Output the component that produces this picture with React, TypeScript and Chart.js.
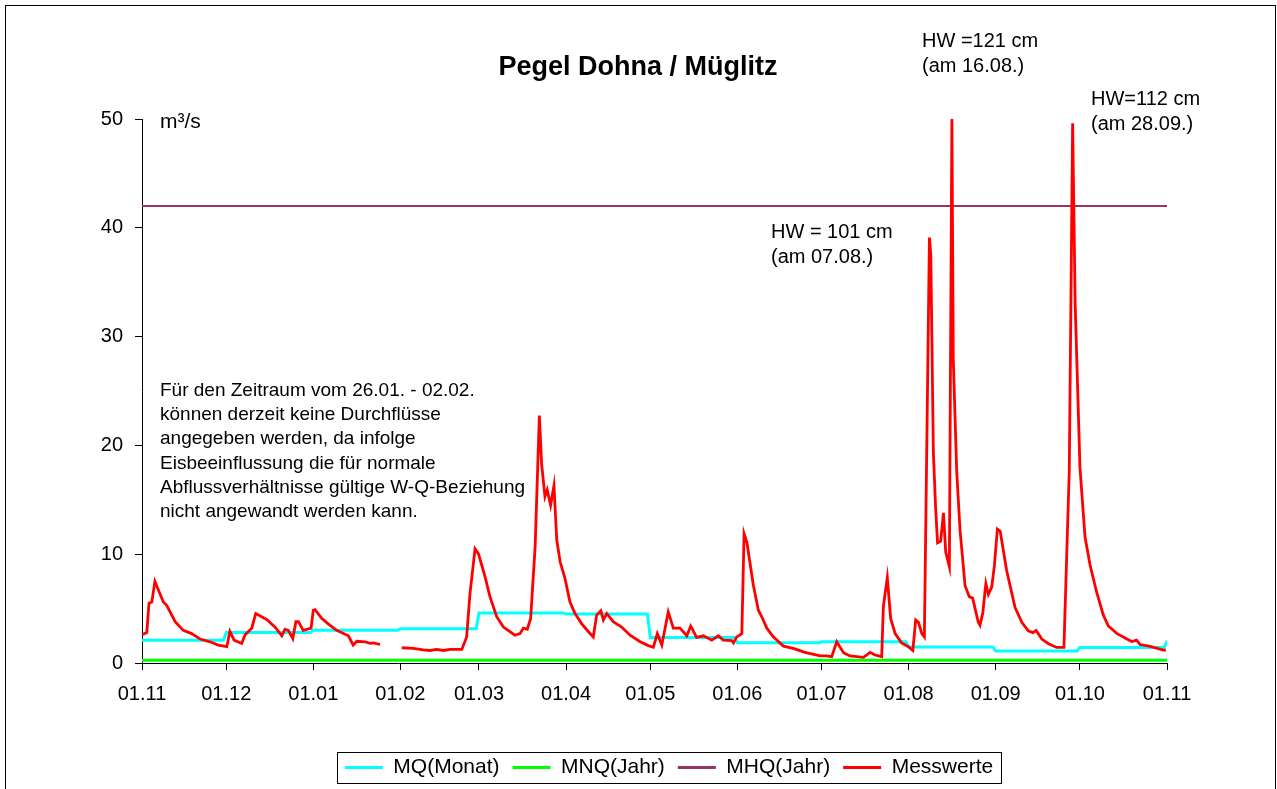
import { useEffect, useRef } from 'react';
import { Chart, registerables } from 'chart.js';

Chart.register(...registerables);

const FONT = '"Liberation Sans", Arial, Helvetica, sans-serif';

// ---------- data ----------
const TITLE = 'Pegel Dohna / Müglitz';
const UNIT = 'm³/s';

// x = day index since 01.11
const MONTH_TICK_DAYS = [0, 30, 61, 92, 120, 151, 181, 212, 242, 273, 304, 334, 365];
const MONTH_TICK_LABELS = ['01.11', '01.12', '01.01', '01.02', '01.03', '01.04', '01.05', '01.06', '01.07', '01.08', '01.09', '01.10', '01.11'];

const SERIES_NAMES = ['MQ(Monat)', 'MNQ(Jahr)', 'MHQ(Jahr)', 'Messwerte'];

// monthly mean discharge MQ (Nov .. Oct), value for the following November at the end
const MQ_MONTH_START = [0, 30, 61, 92, 120, 151, 181, 212, 242, 273, 304, 334];
const MQ_VALUES = [2.1, 2.8, 3.0, 3.15, 4.6, 4.5, 2.35, 1.85, 1.95, 1.47, 1.1, 1.42];
const MQ_NEXT_NOV = 2.05;

const MNQ_VALUE = 0.25;
const MHQ_VALUE = 42;

// measured values (day, m³/s); null = no data (26.01. - 02.02.)
const MESS_DAYS = [
  0, 1.7, 2.5, 3.5, 4.6, 7.6, 8.8, 11.8, 14.7, 17.7, 20.7, 24.2, 27.2, 30.2, 31.3, 32.8, 35.5, 36.7, 39.1, 40.5,
  44.4, 47.4, 49.8, 50.9, 52.1, 53.7, 54.8, 55.7, 57.4, 60.2, 61, 61.6, 64, 66.3, 69.3, 73.5, 75.2, 76.5, 79.4, 81.2,
  82.4, 84.8, 88, 92.5, 96.6, 100.2, 102.6, 104.9, 107.3, 109.7, 113.9, 115.6, 116.8, 118.6, 119.8, 122.2, 123.9, 126.3, 128.7, 132.8,
  134.6, 135.8, 137.2, 138.4, 140, 141.5, 142.3, 143.5, 144.3, 145.5, 146.7, 147.7, 148.9, 150.6, 152.4, 154.2, 156.6, 158.9, 160.7, 161.9,
  163.4, 164.3, 165.5, 167.8, 170.8, 173.8, 177.4, 180.3, 182.1, 183.5, 185.1, 187.4, 189.2, 191.6, 194, 195.4, 197.5, 199.9, 202.9, 205.2,
  207, 210, 210.6, 211.8, 213.6, 214.4, 215.4, 217.7, 219.5, 220.7, 222.5, 224.8, 228.4, 231.9, 236.1, 241.5, 243.8, 245.6, 247.4, 249.8,
  252.1, 256.9, 259.3, 261, 263.4, 264, 265.4, 266.6, 268.2, 270.5, 272.9, 274.5, 275.5, 276.5, 277.7, 278.6, 280.4, 280.9, 281.8, 282.6,
  283.3, 284.4, 285.4, 286.2, 287.5, 288.4, 288.9, 290.1, 291.3, 293.1, 294.6, 295.8, 297.8, 298.4, 299.4, 300.5, 301.4, 302.6, 303.5, 304.6,
  305.6, 307.9, 310.9, 313.3, 315.6, 317.2, 318.4, 320.4, 322.8, 325.7, 328.3, 330.2, 331.4, 332.3, 334, 335.8, 337.6, 340, 342.3, 344.1,
  347.1, 350.7, 352.5, 354.2, 355.4, 359, 363.7, 364.6,
];
const MESS_VALUES = [
  2.6, 2.8, 5.5, 5.6, 7.5, 5.6, 5.3, 3.8, 3.0, 2.7, 2.2, 1.95, 1.65, 1.5, 2.9, 2.1, 1.8, 2.6, 3.2, 4.55,
  4.0, 3.3, 2.5, 3.1, 3.0, 2.25, 3.8, 3.8, 3.0, 3.2, 4.85, 4.9, 4.1, 3.6, 3.0, 2.5, 1.65, 2.0, 1.95, 1.8,
  1.85, 1.7, null, 1.4, 1.35, 1.2, 1.15, 1.25, 1.15, 1.25, 1.25, 2.4, 6.4, 10.5, 10.05, 7.9, 6.1, 4.25, 3.3, 2.55,
  2.7, 3.2, 3.1, 4.1, 10.7, 22.75, 18.3, 15.3, 15.9, 14.5, 16.3, 11.3, 9.3, 7.8, 5.6, 4.55, 3.6, 2.9, 2.4, 4.4,
  4.8, 3.95, 4.55, 3.8, 3.3, 2.55, 1.95, 1.6, 1.45, 2.7, 1.65, 4.7, 3.2, 3.2, 2.5, 3.4, 2.35, 2.5, 2.1, 2.5,
  2.1, 2.05, 1.85, 2.4, 2.7, 11.9, 11.1, 7.15, 4.85, 4.25, 3.2, 2.4, 1.55, 1.35, 0.98, 0.65, 0.65, 0.58, 1.95, 0.95,
  0.65, 0.52, 0.98, 0.73, 0.58, 5.2, 7.85, 4.1, 2.7, 1.85, 1.5, 1.15, 3.95, 3.74, 2.7, 2.4, 39.1, 37.4, 19.4, 14.3,
  11.05, 11.2, 13.8, 10.2, 8.85, 50, 27.9, 17.7, 12.2, 7.1, 6.1, 5.95, 3.74, 3.47, 4.6, 7.3, 6.3, 7.0, 8.85, 12.3,
  12.1, 8.5, 5.1, 3.74, 2.96, 2.79, 2.99, 2.2, 1.77, 1.43, 1.43, 17.7, 49.6, 33, 18, 11.6, 9.0, 6.46, 4.42, 3.4,
  2.72, 2.2, 1.97, 2.1, 1.7, 1.53, 1.19, 1.19,
];

const NOTE_LINES = [
  'Für den Zeitraum vom 26.01. - 02.02.',
  'können derzeit keine Durchflüsse',
  'angegeben werden, da infolge',
  'Eisbeeinflussung die für normale',
  'Abflussverhältnisse gültige W-Q-Beziehung',
  'nicht angewandt werden kann.',
];
const HW_TEXTS = [
  ['HW = 101 cm', '(am 07.08.)'],
  ['HW =121 cm', '(am 16.08.)'],
  ['HW=112 cm', '(am 28.09.)'],
];

// ---------- styles / layout ----------
const COLORS = ['#00FFFF', '#00FF00', '#993366', '#FF0000'];
const WIDTHS = [3, 3, 2, 2.8];
const HW_POS = [
  { x: 771, y: 238 },
  { x: 922, y: 47 },
  { x: 1091, y: 105 },
];
const LEGEND_CENTER_X = 669;

const decorPlugin = {
  id: 'decor',
  beforeDraw(chart: any) {
    const { ctx } = chart;
    ctx.save();
    ctx.fillStyle = '#ffffff';
    ctx.fillRect(0, 0, chart.width, chart.height);
    ctx.strokeStyle = '#000';
    ctx.lineWidth = 1;
    ctx.strokeRect(5.5, 5.5, 1270, chart.height + 20);
    ctx.restore();
  },
  afterUpdate(chart: any) {
    const lg = chart.legend;
    if (!lg) return;
    const dx = LEGEND_CENTER_X - (lg.left + lg.right) / 2;
    lg.left += dx;
    lg.right += dx;
    (lg.legendHitBoxes || []).forEach((h: any) => { h.left += dx; });
  },
  afterDraw(chart: any) {
    const { ctx } = chart;
    ctx.save();
    ctx.fillStyle = '#000';
    ctx.textBaseline = 'alphabetic';
    ctx.textAlign = 'center';
    ctx.font = `bold 27px ${FONT}`;
    ctx.fillText(TITLE, 638, 75);
    ctx.textAlign = 'left';
    ctx.font = `21px ${FONT}`;
    ctx.fillText(UNIT, 160, 128);
    ctx.font = `19px ${FONT}`;
    NOTE_LINES.forEach((t, i) => ctx.fillText(t, 160, 396 + i * 24.2));
    ctx.font = `20px ${FONT}`;
    HW_TEXTS.forEach((lines, i) => {
      lines.forEach((t, j) => ctx.fillText(t, HW_POS[i].x, HW_POS[i].y + j * 25));
    });
    // legend frame
    const lg = chart.legend;
    if (lg && lg.legendHitBoxes && lg.legendHitBoxes.length) {
      const hb = lg.legendHitBoxes;
      const l = hb[0].left - 8;
      const r = hb[hb.length - 1].left + hb[hb.length - 1].width + 8;
      const t = hb[0].top - 5;
      const b = hb[0].top + hb[0].height + 5;
      ctx.strokeStyle = '#000';
      ctx.lineWidth = 1;
      ctx.strokeRect(Math.round(l) + 0.5, Math.round(t) + 0.5, Math.round(r - l), Math.round(b - t));
    }
    ctx.restore();
  },
};

export default function App() {
  const ref = useRef<HTMLCanvasElement | null>(null);

  useEffect(() => {
    document.body.style.margin = '0';
    const canvas = ref.current;
    if (!canvas) return;

    const mqPoints: { x: number; y: number }[] = [];
    MQ_MONTH_START.forEach((start, i) => {
      const end = (i + 1 < MQ_MONTH_START.length ? MQ_MONTH_START[i + 1] : 365) - 1;
      mqPoints.push({ x: start, y: MQ_VALUES[i] });
      mqPoints.push({ x: end, y: MQ_VALUES[i] });
    });
    mqPoints.push({ x: 365, y: MQ_NEXT_NOV });

    const mnqPoints = [{ x: 0, y: MNQ_VALUE }, { x: 365, y: MNQ_VALUE }];
    const mhqPoints = [{ x: 0, y: MHQ_VALUE }, { x: 365, y: MHQ_VALUE }];
    const messPoints = MESS_DAYS.map((d, i) => ({ x: d, y: MESS_VALUES[i] }));

    const seriesData = [mqPoints, mnqPoints, mhqPoints, messPoints];

    Chart.defaults.color = '#000';
    Chart.defaults.font.family = FONT;

    const tickFont = { family: FONT, size: 20 };

    const chart = new Chart(canvas, {
      type: 'line',
      data: {
        datasets: SERIES_NAMES.map((name, i) => ({
          label: name,
          data: seriesData[i] as any,
          borderColor: COLORS[i],
          backgroundColor: COLORS[i],
          borderWidth: WIDTHS[i],
          pointRadius: 0,
          tension: 0,
          spanGaps: false,
          order: i === 3 ? 0 : 1,
        })),
      },
      options: {
        animation: false,
        responsive: false,
        devicePixelRatio: 1,
        parsing: false as any,
        normalized: true,
        layout: { padding: { left: 0, right: 110, top: 119, bottom: 1 } },
        plugins: {
          title: { display: false },
          tooltip: { enabled: false },
          legend: {
            position: 'bottom',
            labels: {
              font: { family: FONT, size: 21 },
              color: '#000',
              boxWidth: 38,
              boxHeight: 3,
              padding: 13,
              sort: (a: any, b: any) => a.datasetIndex - b.datasetIndex,
              generateLabels: (c: any) =>
                Chart.defaults.plugins.legend.labels.generateLabels(c).map((it: any) => ({
                  ...it,
                  lineWidth: 0,
                  fillStyle: COLORS[it.datasetIndex],
                })),
            },
          },
        },
        scales: {
          x: {
            type: 'linear',
            min: 0,
            max: 365,
            afterBuildTicks: (axis: any) => {
              axis.ticks = MONTH_TICK_DAYS.map((v) => ({ value: v }));
            },
            afterFit: (axis: any) => {
              axis.height = 81;
            },
            ticks: {
              autoSkip: false,
              maxRotation: 0,
              padding: 12,
              font: tickFont,
              color: '#000',
              callback: (v: any) => {
                const idx = MONTH_TICK_DAYS.indexOf(Number(v));
                return idx >= 0 ? MONTH_TICK_LABELS[idx] : '';
              },
            },
            grid: { display: true, drawOnChartArea: false, drawTicks: true, tickLength: 7, color: '#000' },
            border: { display: true, color: '#000', width: 1 },
          },
          y: {
            type: 'linear',
            min: 0,
            max: 50,
            afterFit: (axis: any) => {
              axis.width = 142;
            },
            ticks: { stepSize: 10, padding: 12, font: tickFont, color: '#000' },
            grid: { display: true, drawOnChartArea: false, drawTicks: true, tickLength: 7, color: '#000' },
            border: { display: true, color: '#000', width: 1 },
          },
        },
      },
      plugins: [decorPlugin],
    });

    return () => chart.destroy();
  }, []);

  return (
    <div style={{ width: 1277, height: 789, position: 'relative' }}>
      <canvas ref={ref} width={1277} height={789} style={{ display: 'block', width: 1277, height: 789 }} />
    </div>
  );
}
